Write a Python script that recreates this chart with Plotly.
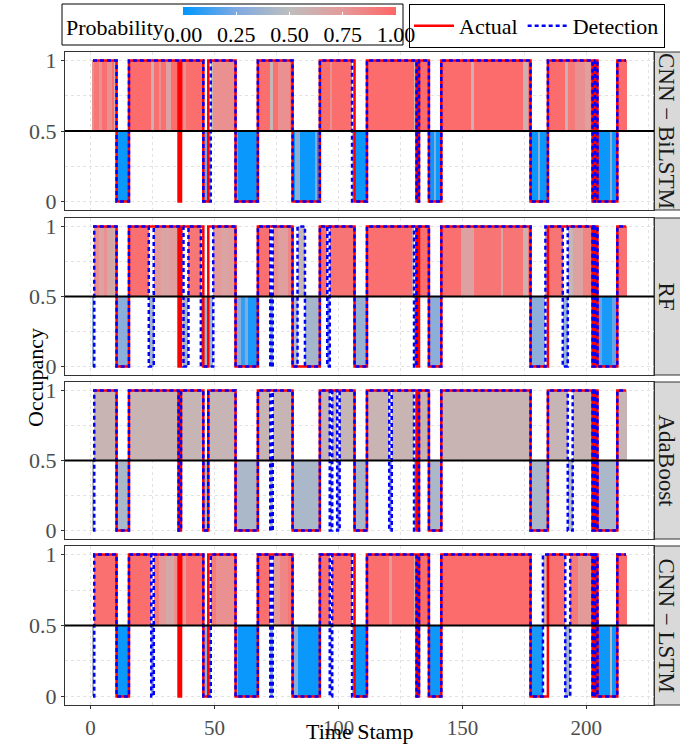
import plotly.graph_objects as go

W, H = 680, 745
FONT = "Liberation Serif"

# ---------------- data ----------------
time_stamp = list(range(1, 217))

# actual occupancy, as runs (first stamp, last stamp, value)
actual_runs = [(1, 10, 1), (11, 15, 0), (16, 35, 1), (36, 36, 0), (37, 45, 1), (46, 47, 0),
               (48, 58, 1), (59, 67, 0), (68, 81, 1), (82, 92, 0), (93, 106, 1), (107, 111, 0),
               (112, 131, 1), (132, 132, 0), (133, 136, 1), (137, 141, 0), (142, 177, 1),
               (178, 184, 0), (185, 202, 1), (203, 203, 0), (204, 204, 1), (205, 212, 0),
               (213, 216, 1)]

# predicted probability of occupancy per model, as runs (first stamp, last stamp, probability)
cnn_bilstm_runs = [(1, 1, .8), (2, 3, .92), (4, 4, .8), (5, 6, .95), (7, 8, .8), (9, 9, .95), (10, 10, .6),
                   (11, 15, .02), (16, 24, .97), (25, 25, .6), (26, 27, .95), (28, 28, .8), (29, 30, .95),
                   (31, 32, .7), (33, 37, .96), (38, 38, .8), (39, 45, .96), (46, 47, .25), (48, 48, .45),
                   (49, 49, .55), (50, 58, .8), (59, 59, .2), (60, 67, .02), (68, 72, .96), (73, 73, .55),
                   (74, 75, .95), (76, 80, .8), (81, 81, .95), (82, 82, .02), (83, 84, .3), (85, 90, .02),
                   (91, 91, .25), (92, 92, .02), (93, 96, .96), (97, 97, .8), (98, 105, .96), (106, 106, .45),
                   (107, 111, .02), (112, 130, .97), (131, 131, .55), (132, 132, .1), (133, 136, .97),
                   (137, 138, .02), (139, 139, .25), (140, 141, .02), (142, 153, .97), (154, 154, .6),
                   (155, 174, .97), (175, 176, .6), (177, 177, .9), (178, 180, .02), (181, 181, .3),
                   (182, 184, .02), (185, 191, .97), (192, 192, .6), (193, 195, .9), (196, 199, .8),
                   (200, 201, .7), (202, 202, .8), (203, 203, .1), (204, 204, .7), (205, 209, .02),
                   (210, 210, .3), (211, 212, .02), (213, 216, .97)]

rf_runs = [(1, 1, .3), (2, 3, .8), (4, 5, .7), (6, 6, .8), (7, 9, .65), (10, 10, .6), (11, 15, .3),
           (16, 23, .95), (24, 25, .4), (26, 28, .75), (29, 31, .68), (32, 35, .72), (36, 37, .9),
           (38, 39, .4), (40, 44, .92), (45, 49, .38), (50, 52, .75), (53, 55, .68), (56, 58, .72),
           (59, 60, .3), (61, 62, .1), (63, 63, .25), (64, 67, .05), (68, 72, .95), (73, 73, .35),
           (74, 75, .8), (76, 79, .72), (80, 81, .85), (82, 83, .45), (84, 86, .55), (87, 92, .4),
           (93, 95, .95), (96, 96, .35), (97, 106, .93), (107, 111, .35), (112, 129, .95), (130, 130, .6),
           (131, 131, .45), (132, 132, .9), (133, 136, .95), (137, 141, .3), (142, 149, .95),
           (150, 154, .7), (155, 165, .93), (166, 166, .65), (167, 174, .93), (175, 176, .6),
           (177, 177, .9), (178, 183, .3), (184, 184, .6), (185, 190, .93), (191, 192, .35),
           (193, 194, .55), (195, 198, .7), (199, 202, .85), (203, 203, .3), (204, 204, .8),
           (205, 206, .2), (207, 210, .05), (211, 212, .2), (213, 216, .95)]

adaboost_runs = [(1, 1, .45), (2, 10, .57), (11, 15, .42), (16, 35, .57), (36, 36, .45), (37, 45, .56),
                 (46, 47, .42), (48, 58, .56), (59, 67, .42), (68, 72, .56), (73, 73, .48), (74, 81, .56),
                 (82, 92, .42), (93, 96, .56), (97, 97, .48), (98, 99, .56), (100, 100, .45), (101, 106, .56),
                 (107, 111, .42), (112, 120, .57), (121, 121, .45), (122, 130, .57), (131, 132, .45),
                 (133, 136, .57), (137, 141, .42), (142, 177, .57), (178, 184, .42), (185, 192, .56),
                 (193, 194, .45), (195, 202, .56), (203, 203, .45), (204, 204, .55), (205, 212, .42),
                 (213, 216, .56)]

cnn_lstm_runs = [(1, 1, .4), (2, 10, .95), (11, 15, .02), (16, 24, .96), (25, 25, .35), (26, 27, .9),
                 (28, 30, .75), (31, 33, .65), (34, 35, .8), (36, 37, .95), (38, 38, .75), (39, 45, .95),
                 (46, 48, .35), (49, 50, .9), (51, 58, .8), (59, 59, .25), (60, 67, .02), (68, 72, .95),
                 (73, 73, .35), (74, 76, .75), (77, 79, .85), (80, 81, .92), (82, 83, .3), (84, 92, .02),
                 (93, 96, .95), (97, 97, .45), (98, 105, .95), (106, 106, .42), (107, 111, .02),
                 (112, 120, .96), (121, 121, .75), (122, 130, .96), (131, 131, .6), (132, 132, .1),
                 (133, 136, .96), (137, 141, .03), (142, 177, .97), (178, 182, .05), (183, 184, .6),
                 (185, 191, .95), (192, 193, .4), (194, 196, .9), (197, 202, .75), (203, 203, .1),
                 (204, 204, .8), (205, 209, .03), (210, 210, .45), (211, 212, .03), (213, 216, .96)]

model_names = ["CNN − BiLSTM", "RF", "AdaBoost", "CNN − LSTM"]
model_runs = [cnn_bilstm_runs, rf_runs, adaboost_runs, cnn_lstm_runs]

prob_ticks = [0, 0.25, 0.5, 0.75, 1]
prob_tick_labels = ["0.00", "0.25", "0.50", "0.75", "1.00"]
x_ticks = [0, 50, 100, 150, 200]
y_ticks = [0, 0.5, 1]
y_tick_labels = ["0", "0.5", "1"]


def expand(runs):
    lookup = {}
    for a, b, v in runs:
        for t in range(a, b + 1):
            lookup[t] = v
    return [lookup[t] for t in time_stamp]


actual = expand(actual_runs)

# ---------------- layout helpers ----------------
panel_px = [(52, 210), (218, 375), (382, 539), (546, 705)]
X0_PX, X1_PX = 65, 654


def py(p):
    return 1 - p / H


def px(p):
    return p / W


colorscale = [[0.0, "#0096FF"], [0.25, "#7FAAE2"], [0.5, "#BEBEBE"], [0.75, "#E59A9A"], [1.0, "#FF6666"]]

fig = go.Figure()
shapes = []
annotations = []

for i, (name, runs) in enumerate(zip(model_names, model_runs)):
    prob = expand(runs)
    det = [1 if p >= 0.5 else 0 for p in prob]
    xa = "x" if i == 0 else f"x{i + 1}"
    ya = "y" if i == 0 else f"y{i + 1}"
    fig.add_trace(go.Bar(
        x=time_stamp, y=[d - 0.5 for d in det], base=0.5, width=1,
        marker=dict(color=prob, coloraxis="coloraxis", line=dict(width=0)),
        xaxis=xa, yaxis=ya, showlegend=False, hoverinfo="skip"))
    fig.add_trace(go.Scatter(
        x=time_stamp, y=actual, mode="lines", name="Actual",
        line=dict(color="#FF0000", width=2.5, shape="hvh"),
        xaxis=xa, yaxis=ya, showlegend=(i == 0), legendgroup="actual"))
    fig.add_trace(go.Scatter(
        x=time_stamp, y=det, mode="lines", name="Detection",
        line=dict(color="#0000FF", width=2.5, dash="4px,3px", shape="hvh"),
        xaxis=xa, yaxis=ya, showlegend=(i == 0), legendgroup="det"))

    top, bot = panel_px[i]
    axis_common = dict(showline=True, mirror=True, linecolor="#333333", linewidth=1,
                       zeroline=False, showgrid=True, gridcolor="#E3E3E3", griddash="dot", gridwidth=1)
    xkey = "xaxis" if i == 0 else f"xaxis{i + 1}"
    ykey = "yaxis" if i == 0 else f"yaxis{i + 1}"
    fig.update_layout(**{
        xkey: dict(domain=[px(X0_PX), px(X1_PX)], anchor=ya, range=[-10.3, 227.3],
                   tickvals=x_ticks, showticklabels=(i == 3),
                   ticks="outside" if i == 3 else "", ticklen=3, tickcolor="#333333",
                   ticklabelstandoff=1,
                   tickfont=dict(family=FONT, size=21, color="#4D4D4D"),
                   minor=dict(dtick=25, tick0=0, showgrid=True, gridcolor="#E3E3E3", griddash="dot"),
                   **axis_common),
        ykey: dict(domain=[py(bot), py(top)], anchor=xa, range=[-0.06, 1.06],
                   tickvals=y_ticks, ticktext=y_tick_labels,
                   ticks="outside", ticklen=3, tickcolor="#333333",
                   tickfont=dict(family=FONT, size=22, color="#4D4D4D"),
                   minor=dict(dtick=0.25, tick0=0, showgrid=True, gridcolor="#E3E3E3", griddash="dot"),
                   **axis_common),
    })
    # reference line at 0.5
    shapes.append(dict(type="line", xref=f"{xa} domain", x0=0, x1=1, yref=ya, y0=0.5, y1=0.5,
                       line=dict(color="black", width=2), layer="above"))
    # facet strip
    shapes.append(dict(type="rect", xref="paper", x0=px(X1_PX), x1=1.02, yref="paper",
                       y0=py(bot), y1=py(top), fillcolor="#D9D9D9",
                       line=dict(color="#333333", width=1), layer="below"))
    annotations.append(dict(text=name, xref="paper", yref="paper", x=px(666), y=py((top + bot) / 2),
                            textangle=90, showarrow=False, xanchor="center", yanchor="middle",
                            font=dict(family=FONT, size=23, color="#1A1A1A")))

# probability legend box and title
shapes.append(dict(type="rect", xref="paper", yref="paper", x0=px(62), x1=px(403), y0=py(45), y1=py(4),
                   line=dict(color="black", width=1), fillcolor="rgba(0,0,0,0)"))
annotations.append(dict(text="Probability", xref="paper", yref="paper", x=px(64), y=py(27),
                        xanchor="left", yanchor="middle", showarrow=False,
                        font=dict(family=FONT, size=22, color="black")))
annotations.append(dict(text="Occupancy", xref="paper", yref="paper", x=px(35), y=py(378),
                        textangle=-90, showarrow=False, xanchor="center", yanchor="middle",
                        font=dict(family=FONT, size=22, color="black")))
annotations.append(dict(text="Time Stamp", xref="paper", yref="bottom" if False else "paper",
                        x=px(359.5), y=py(745), yanchor="bottom", xanchor="center", yshift=-1,
                        showarrow=False,
                        font=dict(family=FONT, size=22, color="black")))

fig.update_layout(
    width=W, height=H,
    margin=dict(l=0, r=0, t=0, b=0, autoexpand=False),
    paper_bgcolor="white", plot_bgcolor="white",
    bargap=0, barmode="overlay",
    font=dict(family=FONT, color="black"),
    coloraxis=dict(
        cmin=0, cmax=1, colorscale=colorscale,
        colorbar=dict(orientation="h", x=px(289.5), xanchor="center", y=py(7), yanchor="top",
                      len=213 / W, lenmode="fraction", thickness=8, thicknessmode="pixels",
                      outlinewidth=0, ticks="inside", ticklen=3, tickcolor="white",
                      tickvals=prob_ticks, ticktext=prob_tick_labels,
                      tickfont=dict(family=FONT, size=22, color="black"),
                      ticklabelposition="outside bottom", xpad=0, ypad=0, title=dict(text=""))),
    legend=dict(orientation="h", x=px(409), y=py(4), xanchor="left", yanchor="top",
                bordercolor="black", borderwidth=1, bgcolor="white",
                font=dict(family=FONT, size=22, color="black"), itemwidth=40),
    shapes=shapes,
    annotations=annotations,
)

fig.write_html("out.html", config={"displayModeBar": False},
               post_script="document.body.style.margin='0px';document.body.style.overflow='hidden';")
